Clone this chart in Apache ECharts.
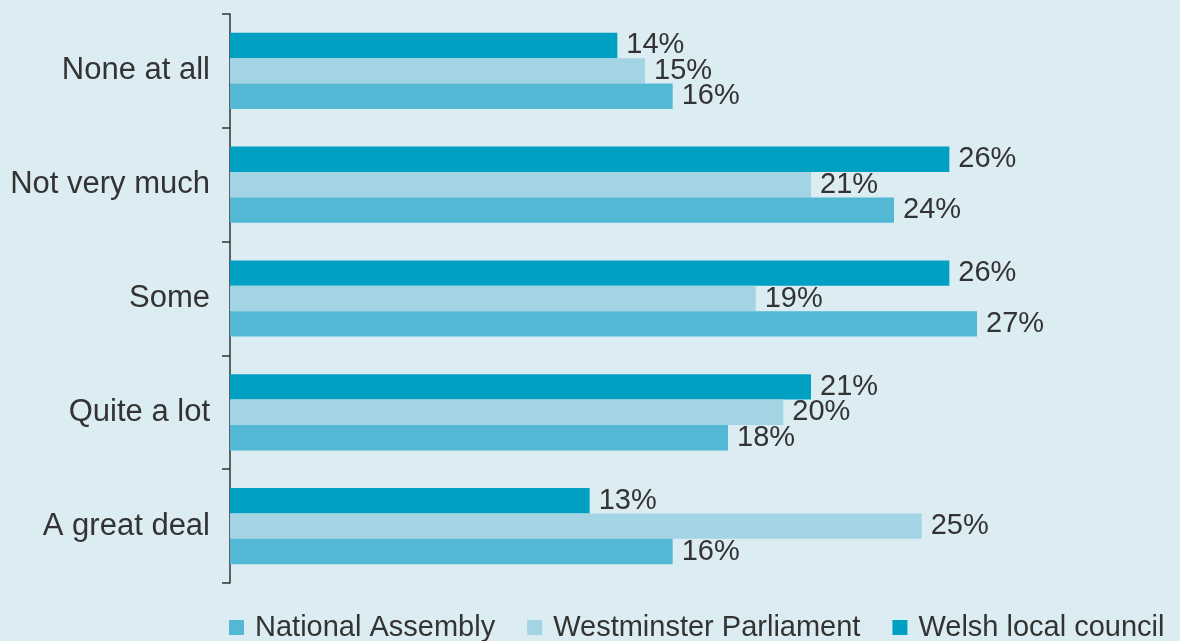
<!DOCTYPE html>
<html>
<head>
<meta charset="utf-8">
<script src="https://cdn.jsdelivr.net/npm/echarts@6/dist/echarts.min.js"></script>
<style>
html,body{margin:0;padding:0;background:#dcecf3;}
#chart{width:1180px;height:641px;}
</style>
</head>
<body>
<div id="chart"></div>
<script>
const categories = ["A great deal", "Quite a lot", "Some", "Not very much", "None at all"];
const nationalAssembly = [16, 18, 27, 24, 16];
const westminsterParliament = [25, 20, 19, 21, 15];
const welshLocalCouncil = [13, 21, 26, 26, 14];
const seriesNames = ["National Assembly", "Westminster Parliament", "Welsh local council"];

const font = "'Liberation Sans', Arial, sans-serif";
const colors = ["#52b8d3", "#a3d4e4", "#00a0c2"];

function mk(name, data, color) {
  return {
    name: name,
    type: 'bar',
    data: data,
    barGap: '0%',
    barCategoryGap: '33%',
    itemStyle: { color: color },
    label: {
      show: true,
      position: 'right',
      distance: 9,
      formatter: '{c}%',
      color: '#333333',
      fontFamily: font,
      fontSize: 29
    }
  };
}

const chart = echarts.init(document.getElementById('chart'), null, { renderer: 'canvas' });
chart.setOption({
  backgroundColor: '#dcecf3',
  animation: false,
  grid: { left: 230, top: 14, bottom: 58, right: 120, containLabel: false },
  xAxis: {
    type: 'value', min: 0, max: 30, show: false
  },
  yAxis: {
    type: 'category',
    data: categories,
    axisLine: { show: true, lineStyle: { color: '#333', width: 1.5 } },
    axisTick: { show: true, length: 8, lineStyle: { color: '#333', width: 1.5 } },
    axisLabel: { color: '#333333', fontFamily: font, fontSize: 31, margin: 20, padding: [8, 0, 0, 0] }
  },
  legend: {
    data: seriesNames,
    left: 224,
    top: 608,
    icon: 'rect',
    itemWidth: 15,
    itemHeight: 15,
    itemGap: 32,
    textStyle: { color: '#333333', fontFamily: font, fontSize: 29, padding: [0, 0, 0, 6] }
  },
  series: [
    mk(seriesNames[2], welshLocalCouncil, colors[2]),
    mk(seriesNames[1], westminsterParliament, colors[1]),
    mk(seriesNames[0], nationalAssembly, colors[0])
  ]
});
</script>
</body>
</html>
